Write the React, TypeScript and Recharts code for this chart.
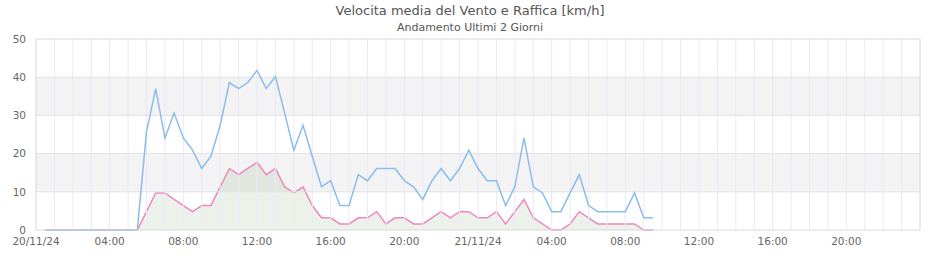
import React from "react";
import {
  ComposedChart,
  Line,
  Area,
  XAxis,
  YAxis,
  ReferenceArea,
  ReferenceLine,
} from "recharts";

// ore dall'inizio del 20/11/24 00:00, campioni ogni mezz'ora
const hours = [
  0.5, 1, 1.5, 2, 2.5, 3, 3.5, 4, 4.5, 5, 5.5, 6, 6.5, 7, 7.5, 8, 8.5, 9, 9.5, 10,
  10.5, 11, 11.5, 12, 12.5, 13, 13.5, 14, 14.5, 15, 15.5, 16, 16.5, 17, 17.5, 18,
  18.5, 19, 19.5, 20, 20.5, 21, 21.5, 22, 22.5, 23, 23.5, 24, 24.5, 25, 25.5, 26,
  26.5, 27, 27.5, 28, 28.5, 29, 29.5, 30, 30.5, 31, 31.5, 32, 32.5, 33, 33.5,
];

const raffica = [
  0, 0, 0, 0, 0, 0, 0, 0, 0, 0, 0, 25.7, 37.0, 24.1, 30.6, 24.1, 20.9, 16.1, 19.3, 27.4,
  38.6, 37.0, 38.6, 41.8, 37.0, 40.2, 30.6, 20.9, 27.4, 19.3, 11.3, 12.9, 6.4, 6.4, 14.5, 12.9,
  16.1, 16.1, 16.1, 12.9, 11.3, 8.0, 12.9, 16.1, 12.9, 16.1, 20.9, 16.1, 12.9, 12.9, 6.4, 11.3,
  24.1, 11.3, 9.7, 4.8, 4.8, 9.7, 14.5, 6.4, 4.8, 4.8, 4.8, 4.8, 9.7, 3.2, 3.2,
];

const media = [
  0, 0, 0, 0, 0, 0, 0, 0, 0, 0, 0, 4.8, 9.7, 9.7, 8.0, 6.4, 4.8, 6.4, 6.4, 11.3,
  16.1, 14.5, 16.1, 17.7, 14.5, 16.1, 11.3, 9.7, 11.3, 6.4, 3.2, 3.2, 1.6, 1.6, 3.2, 3.2,
  4.8, 1.6, 3.2, 3.2, 1.6, 1.6, 3.2, 4.8, 3.2, 4.8, 4.8, 3.2, 3.2, 4.8, 1.6, 4.8,
  8.0, 3.2, 1.6, 0, 0, 1.6, 4.8, 3.2, 1.6, 1.6, 1.6, 1.6, 1.6, 0, 0,
];

const xTicks = [0, 4, 8, 12, 16, 20, 24, 28, 32, 36, 40, 44];
const dayLabels: Record<number, string> = { 0: "20/11/24", 24: "21/11/24" };
const yTicks = [0, 10, 20, 30, 40, 50];

const data = hours.map((h, i) => ({ h, raffica: raffica[i], media: media[i] }));

const gridHours = Array.from({ length: 47 }, (_, i) => i + 1);

const fmtHour = (v: number) =>
  dayLabels[v] ?? `${String(v % 24).padStart(2, "0")}:00`;

const font = "'DejaVu Sans', sans-serif";

export default function App() {
  return (
    <div style={{ position: "absolute", left: 0, top: 0, width: 940, height: 260, background: "#fff", fontFamily: font }}>
      <div style={{ position: "absolute", top: 3, width: 940, textAlign: "center", fontSize: 13, color: "#555" }}>
        Velocita media del Vento e Raffica [km/h]
      </div>
      <div style={{ position: "absolute", top: 21, width: 940, textAlign: "center", fontSize: 11, color: "#555" }}>
        Andamento Ultimi 2 Giorni
      </div>
      <ComposedChart width={940} height={260} data={data} margin={{ top: 39, right: 20, left: 0, bottom: 0 }}>
        <ReferenceArea y1={10} y2={20} fill="#f3f3f3" fillOpacity={1} stroke="none" />
        <ReferenceArea y1={30} y2={40} fill="#f3f3f3" fillOpacity={1} stroke="none" />
        {gridHours.map((h) => (
          <ReferenceLine key={h} x={h} stroke="#ebe8f8" strokeWidth={1} />
        ))}
        {[10, 20, 30, 40].map((v) => (
          <ReferenceLine key={v} y={v} stroke="#e2e2e2" strokeWidth={1} />
        ))}
        <ReferenceLine y={50} stroke="#d8d8d8" />
        <ReferenceLine x={48} stroke="#d8d8d8" />
        <XAxis
          dataKey="h"
          type="number"
          domain={[0, 48]}
          ticks={xTicks}
          tickFormatter={fmtHour}
          tickLine={false}
          axisLine={{ stroke: "#d8d8d8" }}
          tick={{ fill: "#666", fontSize: 10.5, fontFamily: font }}
          height={30}
          interval={0}
        />
        <YAxis
          domain={[0, 50]}
          ticks={yTicks}
          tickLine={false}
          axisLine={{ stroke: "#d8d8d8" }}
          tick={{ fill: "#666", fontSize: 10.5, fontFamily: font }}
          tickMargin={4}
          width={36}
        />
        <Line
          dataKey="raffica"
          type="linear"
          stroke="#8abdee"
          strokeWidth={1.5}
          dot={false}
          isAnimationActive={false}
        />
        <Area
          dataKey="media"
          type="linear"
          stroke="#ee88bb"
          strokeWidth={1.5}
          fill="#80a873"
          fillOpacity={0.15}
          dot={false}
          isAnimationActive={false}
        />
      </ComposedChart>
    </div>
  );
}
